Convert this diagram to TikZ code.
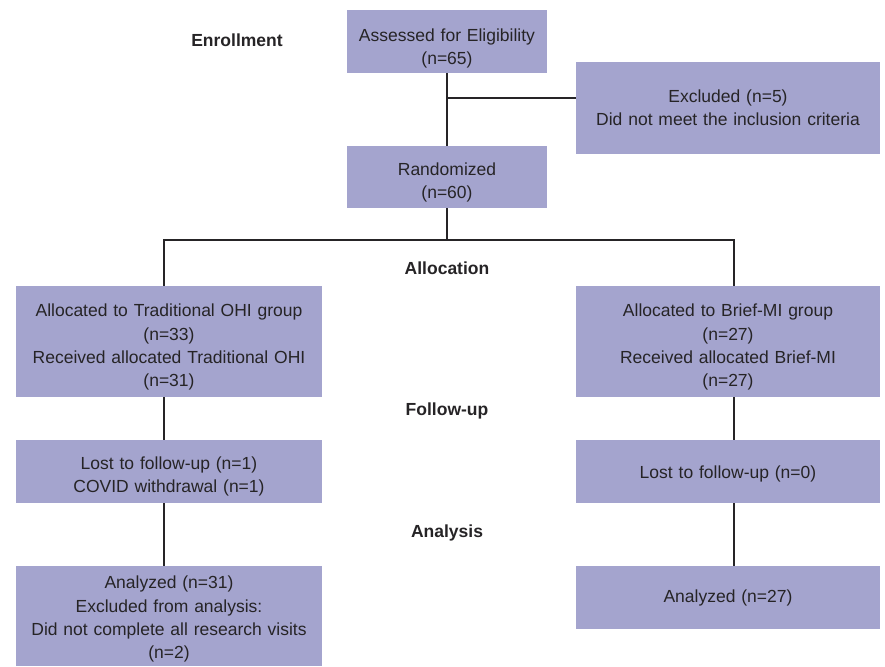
\documentclass[tikz,border=0pt]{standalone}
\usepackage{fontspec}
\setmainfont{Liberation Sans}
\usepackage{xcolor}
\definecolor{boxfill}{RGB}{164,164,206}
\definecolor{inkgray}{RGB}{38,36,38}

\begin{document}
\begin{tikzpicture}[x=1pt,y=-1pt,
    box/.style={fill=boxfill,text=inkgray,align=center,inner sep=0pt,
        minimum width=#1,text width=#1-10,
        font=\fontsize{17.5}{23.3}\selectfont},
    lift/.style={execute at begin node={\rule{0pt}{#1}}},
    stage/.style={text=inkgray,font=\fontsize{17.5}{20}\selectfont\bfseries},
    link/.style={draw=inkgray,line width=1.3pt}]
    \useasboundingbox (0,0) rectangle (885,666);
    \node[box=200,lift=26pt,minimum height=63] (assess) at (447,41.5) {Assessed for Eligibility\\(n=65)};
    \node[box=304,minimum height=92] (excl) at (728,108) {Excluded (n=5)\\Did not meet the inclusion criteria};
    \node[box=200,lift=23pt,minimum height=62] (rand) at (447,177) {Randomized\\(n=60)};
    \node[box=306,lift=24pt,minimum height=111] (allocL) at (169,341.5) {Allocated to Traditional OHI group\\(n=33)\\Received allocated Traditional OHI\\(n=31)};
    \node[box=304,lift=24pt,minimum height=111] (allocR) at (728,341.5) {Allocated to Brief-MI group\\(n=27)\\Received allocated Brief-MI\\(n=27)};
    \node[box=306,lift=23pt,minimum height=63] (lostL) at (169,471.5) {Lost to follow-up (n=1)\\COVID withdrawal (n=1)};
    \node[box=304,lift=17pt,minimum height=63] (lostR) at (728,471.5) {Lost to follow-up (n=0)};
    \node[box=306,lift=19pt,minimum height=100] (anaL) at (169,616) {Analyzed (n=31)\\Excluded from analysis:\\Did not complete all research visits\\(n=2)};
    \node[box=304,minimum height=63] (anaR) at (728,597.5) {Analyzed (n=27)};
    \node[stage] (enroll) at (237,40) {Enrollment};
    \node[stage] (allocation) at (447,268.5) {Allocation};
    \node[stage] (follow) at (447,411) {Follow-up};
    \node[stage] (analysis) at (447,533) {Analysis};
    \coordinate (split) at (447,98);
    \coordinate (branch) at (447,240);
    \coordinate (lx) at (164,0);
    \coordinate (rx) at (734,0);
    \draw[link] (assess) -- (rand);
    \draw[link] (split) -- (split -| excl.west);
    \draw[link] (rand) -- (branch);
    \draw[link] (allocL.north -| lx) |- (branch) -| (allocR.north -| rx);
    \draw[link] (allocL.south -| lx) -- (lostL.north -| lx);
    \draw[link] (lostL.south -| lx) -- (anaL.north -| lx);
    \draw[link] (allocR.south -| rx) -- (lostR.north -| rx);
    \draw[link] (lostR.south -| rx) -- (anaR.north -| rx);
\end{tikzpicture}
\end{document}
